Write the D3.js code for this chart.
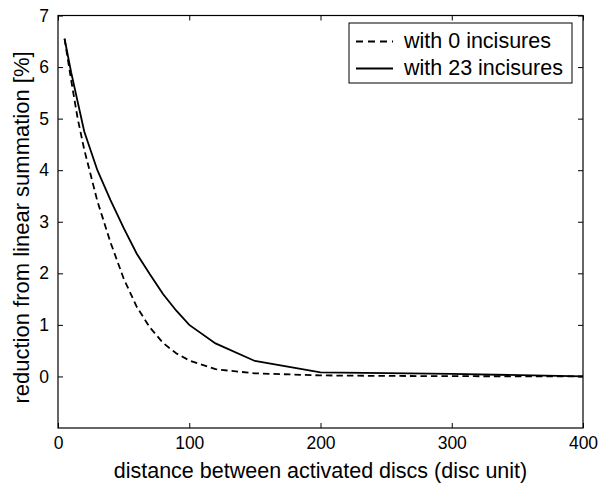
<!DOCTYPE html>
<html>
<head>
<meta charset="UTF-8">
<style>
  body{margin:0;background:#fff}
  svg text{font-family:"Liberation Sans",Arial,sans-serif;fill:#000}
  .axis path{display:none}
  .axis line{stroke:#000;stroke-width:1}
</style>
</head>
<body>
<div id="chart"></div>
<script src="https://d3js.org/d3.v7.min.js"></script>
<script>
// data
const dist0   = [5,10,15,20,25,30,40,50,60,70,80,90,100,120,150,200,250,300,400];
const red0    = [6.55,5.75,5.0,4.4,3.9,3.4,2.6,1.9,1.35,0.95,0.65,0.45,0.31,0.14,0.06,0.02,0.01,0.005,0];
const dist23  = [5,10,20,30,40,50,60,70,80,90,100,120,150,200,300,400];
const red23   = [6.55,5.9,4.75,4.0,3.42,2.88,2.38,1.98,1.6,1.28,1.0,0.64,0.3,0.08,0.05,0];
const xTicks  = [0,100,200,300,400];
const yTicks  = [0,1,2,3,4,5,6,7];
const labels  = ["with 0 incisures","with 23 incisures"];

const W=598,H=485;
const m={left:58,right:15,top:15.5,bottom:57};
const w=W-m.left-m.right, h=H-m.top-m.bottom;

const svg=d3.select("#chart").append("svg").attr("width",W).attr("height",H);
const g=svg.append("g").attr("transform",`translate(${m.left},${m.top})`);

const x=d3.scaleLinear().domain([0,400]).range([0,w]);
const y=d3.scaleLinear().domain([-1,7]).range([h,0]);

/* axes: ticks point inwards, mirrored on top/right */
g.append("g").attr("class","axis").attr("transform",`translate(0,${h})`)
  .call(d3.axisBottom(x).tickValues(xTicks).tickSizeInner(-5).tickSizeOuter(0).tickPadding(9))
  .selectAll("text").style("font-size","17.5px");
g.append("g").attr("class","axis")
  .call(d3.axisLeft(y).tickValues(yTicks).tickSizeInner(-5).tickSizeOuter(0).tickPadding(9))
  .selectAll("text").style("font-size","17.5px");
g.append("g").attr("class","axis")
  .call(d3.axisTop(x).tickValues(xTicks).tickSizeInner(-5).tickSizeOuter(0).tickFormat(""));
g.append("g").attr("class","axis").attr("transform",`translate(${w},0)`)
  .call(d3.axisRight(y).tickValues(yTicks).tickSizeInner(-5).tickSizeOuter(0).tickFormat(""));

g.append("rect").attr("width",w).attr("height",h)
  .attr("fill","none").attr("stroke","#000").attr("stroke-width",1.2);

/* curves */
const line=d3.line().x(d=>x(d[0])).y(d=>y(d[1]));
g.append("path").datum(d3.zip(dist0,red0)).attr("d",line)
  .attr("fill","none").attr("stroke","#000").attr("stroke-width",1.8)
  .attr("stroke-dasharray","6.5,4");
g.append("path").datum(d3.zip(dist23,red23)).attr("d",line)
  .attr("fill","none").attr("stroke","#000").attr("stroke-width",1.8);

/* axis titles */
g.append("text").attr("x",w/2).attr("y",h+50)
  .attr("text-anchor","middle").style("font-size","21.5px")
  .text("distance between activated discs (disc unit)");
g.append("text").attr("transform",`translate(${-29.5},${212}) rotate(-90)`)
  .attr("text-anchor","middle").style("font-size","22px")
  .text("reduction from linear summation [%]");

/* legend */
const lg=g.append("g").attr("transform",`translate(${349-m.left},${23-m.top})`);
lg.append("rect").attr("width",223).attr("height",60)
  .attr("fill","#fff").attr("stroke","#000").attr("stroke-width",1);
labels.forEach((t,i)=>{
  const yy=18.5+i*27;
  lg.append("line").attr("x1",7).attr("x2",44).attr("y1",yy).attr("y2",yy)
    .attr("stroke","#000").attr("stroke-width",1.8)
    .attr("stroke-dasharray",i===0?"7,5":null);
  lg.append("text").attr("x",55).attr("y",yy+6.5).style("font-size","21.5px").text(t);
});
</script>
</body>
</html>
